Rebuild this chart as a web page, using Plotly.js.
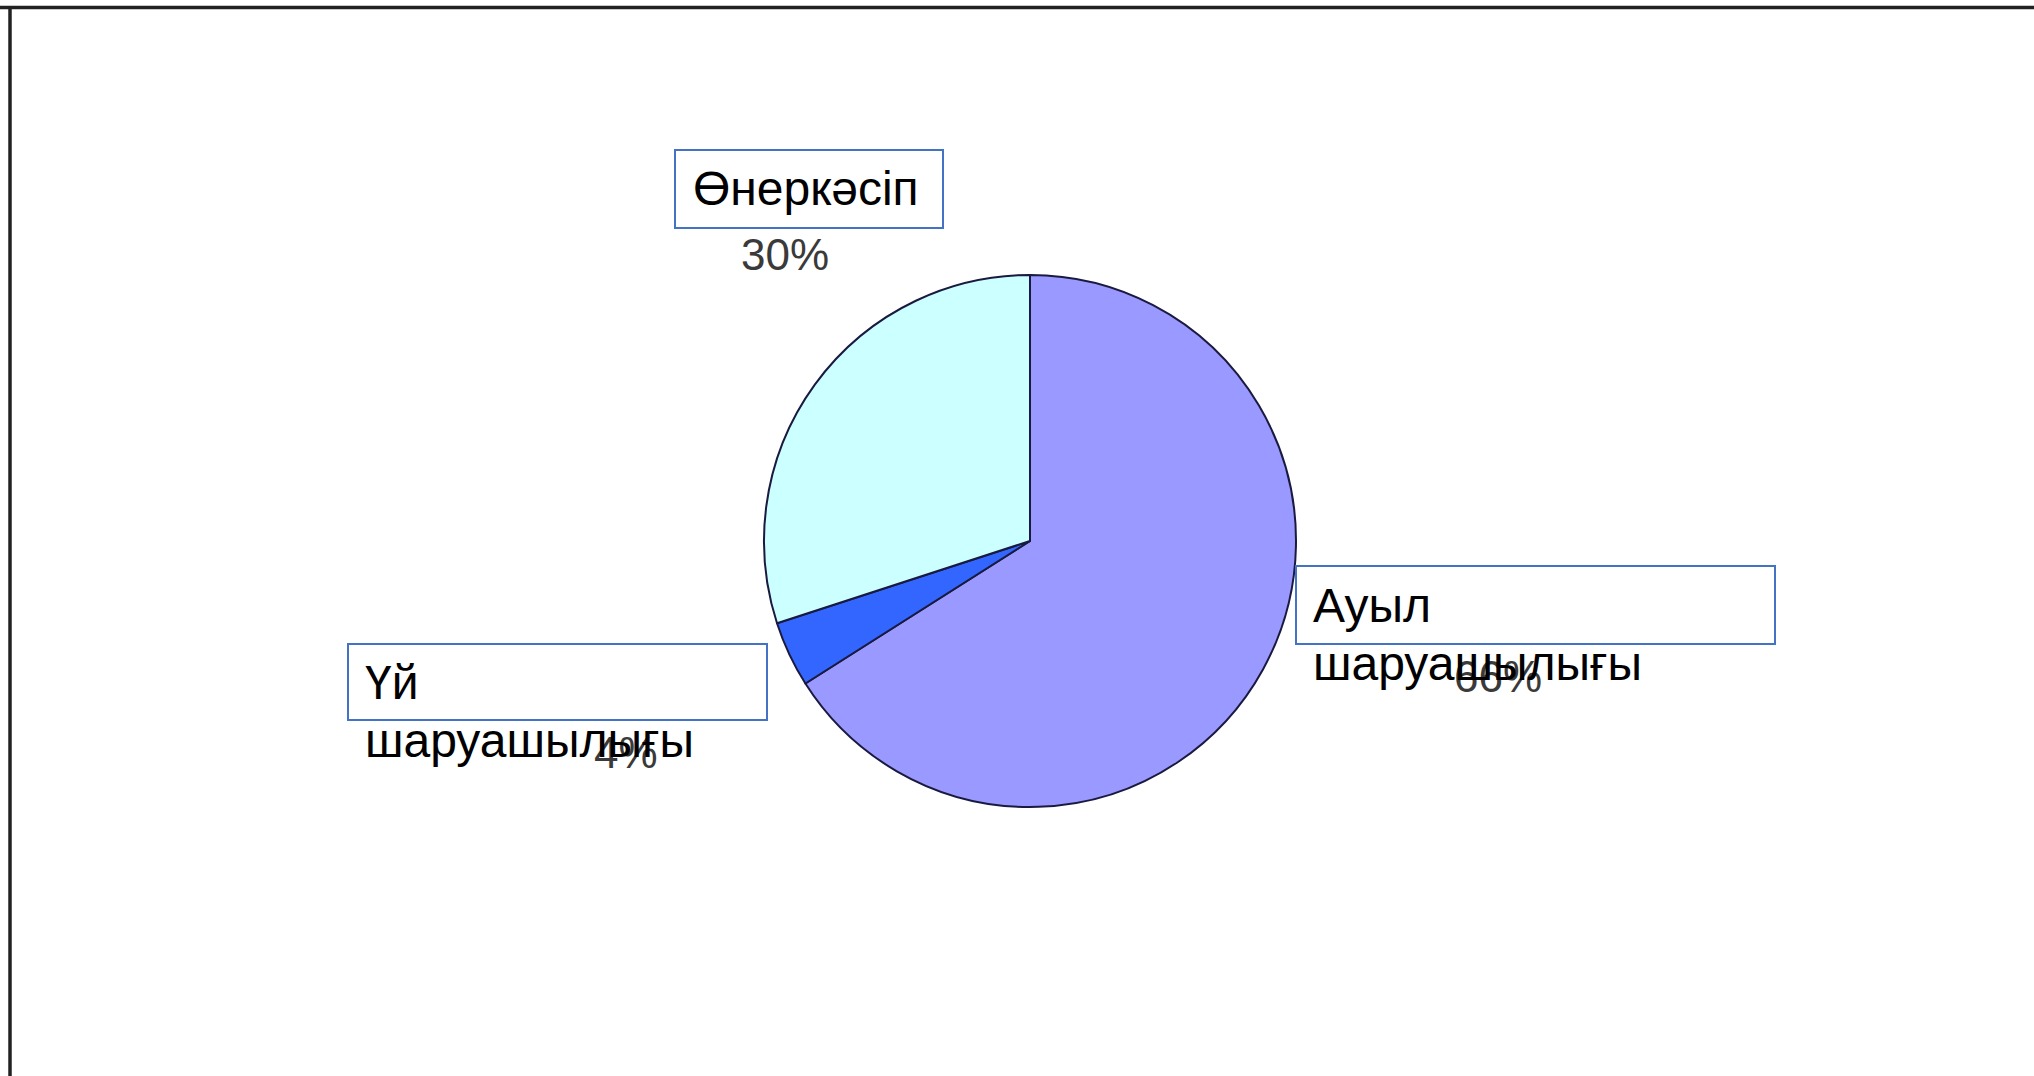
<!DOCTYPE html>
<html>
<head>
<meta charset="utf-8">
<script src="https://cdn.plot.ly/plotly-3.0.1.min.js"></script>
<style>
html,body{margin:0;padding:0;background:#fff;}
#chart{width:2034px;height:1076px;}
</style>
</head>
<body>
<div id="chart"></div>
<script>
// Data
const labels = ["Ауыл шаруашылығы", "Үй шаруашылығы", "Өнеркәсіп"];
const values = [66, 4, 30];
const colors = ["#9999FF", "#3366FF", "#CCFFFF"];

const W = 2034, H = 1076;
const px = x => x / W;
const py = y => 1 - y / H;

const total = values.reduce((a, b) => a + b, 0);
const pct = values.map(v => Math.round(v / total * 100) + "%");

// layout helpers (pixel placement of label boxes / texts)
const boxes = [
  {x0: 1296, y0: 566, x1: 1775, y1: 644},
  {x0: 348, y0: 644, x1: 767, y1: 720},
  {x0: 675, y0: 150, x1: 943, y1: 228}
];
const labelPos = [
  {x: 1311, y: 577},
  {x: 363, y: 654},
  {x: 691, y: 160}
];
const lineGap = 58;
const pctPos = [
  {x: 1498, y: 676},
  {x: 626, y: 752},
  {x: 785, y: 254}
];

const cx = 1030, cy = 541, r = 266;

const trace = {
  type: "pie",
  labels: labels,
  values: values,
  sort: false,
  direction: "clockwise",
  rotation: 0,
  textinfo: "none",
  hoverinfo: "label+percent",
  marker: {colors: colors, line: {color: "#1a1a40", width: 2}},
  domain: {x: [px(cx - r), px(cx + r)], y: [py(cy + r), py(cy - r)]},
  showlegend: false
};

const shapes = [
  {type: "line", xref: "paper", yref: "paper", x0: 0, x1: 1, y0: py(7.5), y1: py(7.5), line: {color: "#222", width: 3.5}},
  {type: "line", xref: "paper", yref: "paper", x0: px(10), x1: px(10), y0: py(6), y1: 0, line: {color: "#222", width: 3.5}}
];
boxes.forEach(b => shapes.push({
  type: "rect", xref: "paper", yref: "paper",
  x0: px(b.x0), x1: px(b.x1), y0: py(b.y1), y1: py(b.y0),
  line: {color: "#4472C4", width: 2}, fillcolor: "rgba(255,255,255,0)"
}));

const annotations = [];
pct.forEach((t, i) => annotations.push({
  xref: "paper", yref: "paper", x: px(pctPos[i].x), y: py(pctPos[i].y),
  xanchor: "center", yanchor: "middle", showarrow: false, text: t,
  font: {family: "Liberation Sans Narrow, Arial, sans-serif", size: 44, color: "#3a3a3a"}
}));
labels.forEach((t, i) => {
  t.split(" ").forEach((line, j) => annotations.push({
    xref: "paper", yref: "paper", x: px(labelPos[i].x), y: py(labelPos[i].y + j * lineGap),
    xanchor: "left", yanchor: "top", align: "left", showarrow: false,
    text: line,
    font: {family: "Liberation Sans, Arial, sans-serif", size: 48, color: "#000"}
  }));
});

const layout = {
  width: W, height: H,
  margin: {l: 0, r: 0, t: 0, b: 0},
  paper_bgcolor: "#fff", plot_bgcolor: "#fff",
  shapes: shapes,
  annotations: annotations
};

Plotly.newPlot("chart", [trace], layout, {displayModeBar: false, staticPlot: true});
</script>
</body>
</html>
